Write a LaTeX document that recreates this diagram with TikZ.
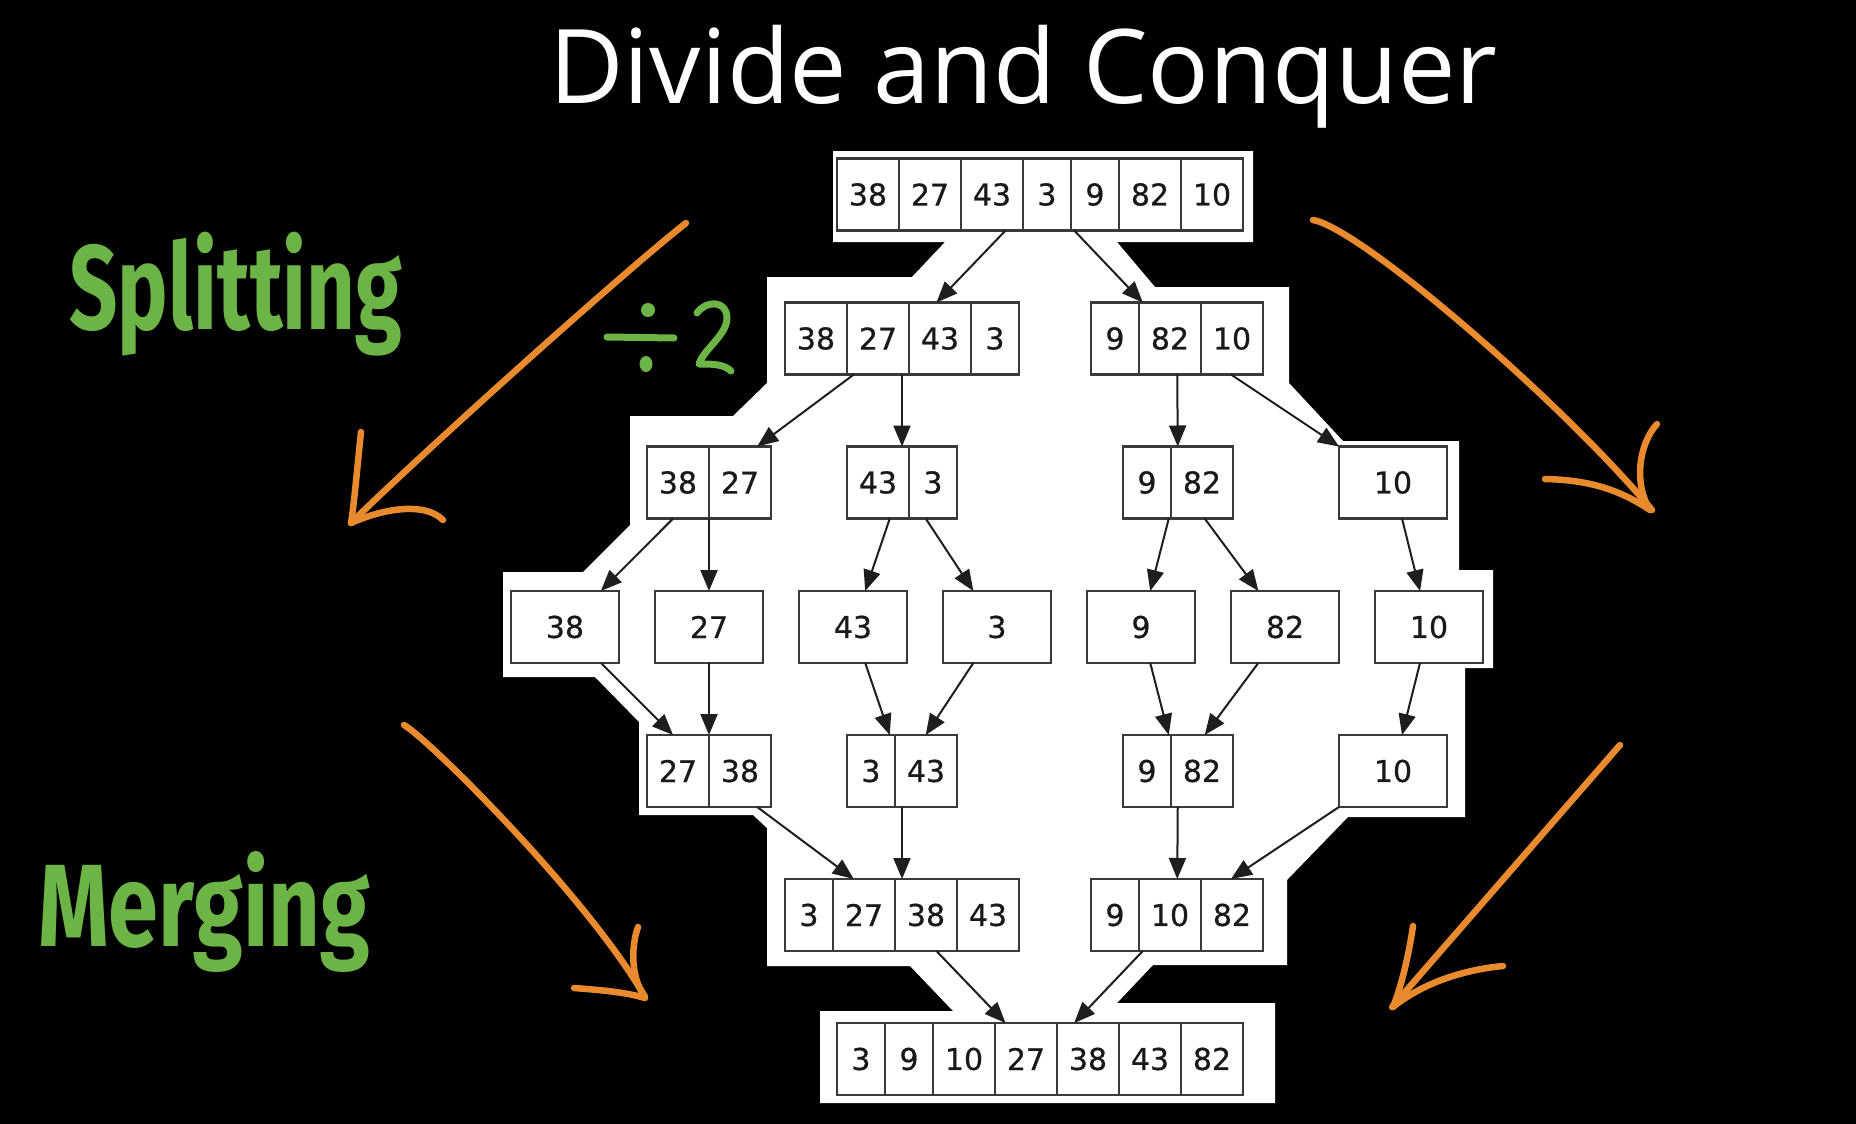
\documentclass[tikz,border=0pt]{standalone}
\usepackage{fontspec}
\usepackage{graphicx}
\usetikzlibrary{arrows.meta,calc}
\newfontfamily\digitfont[FakeBold=0.6]{DejaVu Sans}
\newfontfamily\titlefont{Open Sans}
\newfontfamily\greenfont{Fira Sans}
\definecolor{boxline}{HTML}{3A3A3A}
\definecolor{edgeblack}{HTML}{1E1E1E}
\definecolor{orng}{HTML}{E98A2E}
\definecolor{grn}{HTML}{6CB446}
\tikzset{
  recbox/.style={draw=boxline, line width=2.2pt, fill=white, minimum height=72pt, inner sep=0pt, outer sep=0pt},
  recline/.style={draw=boxline, line width=2.2pt},
  digit/.style={inner sep=0pt, font=\digitfont\fontsize{30}{30}\selectfont, text=black!90},
  edge/.style={draw=edgeblack, line width=2pt, -{Triangle[length=21pt,width=17pt]}},
  orangepen/.style={draw=orng, line width=6.5pt, line cap=round, line join=round},
  greenpen/.style={draw=grn, line width=7pt, line cap=round, line join=round},
}
% record node: name, x centre, y centre, total width, list width/label
\newcommand\recnode[5]{%
  \node[recbox, minimum width=#4pt] (#1) at (#2,#3) {};
  \xdef\curcx{0}%
  \foreach \w/\t [count=\i] in {#5} {%
    \ifnum\i>1 \draw[recline] ($(#1.north west)+(\curcx,0)$) -- ($(#1.south west)+(\curcx,0)$);\fi
    \pgfmathsetmacro\cellmid{\curcx+\w/2}%
    \node[digit] (#1-\i) at ($(#1.west)+(\cellmid,0)$) {\t};
    \pgfmathsetmacro\nextcx{\curcx+\w}%
    \xdef\curcx{\nextcx}%
  }%
}
\begin{document}
\begin{tikzpicture}[x=1pt,y=-1pt]
\useasboundingbox (0,0) rectangle (1856,1124);
\fill[black] (0,0) rectangle (1856,1124);
% white halo
\fill[white] (833,151) -- (1253,151) -- (1253,242) -- (1117,242) -- (1155,287) -- (1289,287)
 -- (1289,383) -- (1343,441) -- (1459,441) -- (1459,570) -- (1493,570) -- (1493,668)
 -- (1465,668) -- (1465,817) -- (1348,817) -- (1287,880) -- (1287,965) -- (1153,965)
 -- (1117,1003) -- (1275,1003) -- (1275,1103) -- (820,1103) -- (820,1011) -- (953,1011)
 -- (910,966) -- (767,966) -- (767,828) -- (753,815) -- (639,815) -- (639,722)
 -- (595,677) -- (503,677) -- (503,572) -- (583,572) -- (630,525) -- (630,416)
 -- (733,416) -- (767,383) -- (767,277) -- (912,277) -- (945,242) -- (833,242) -- cycle;
% records
\recnode{r1}{1040}{194.5}{406}{62/38,62/27,62/43,48/3,48/9,62/82,62/10}
\recnode{r2a}{902}{338.5}{234}{62/38,62/27,62/43,48/3}
\recnode{r2b}{1177}{338.5}{172}{48/9,62/82,62/10}
\recnode{r3a}{709}{482.5}{124}{62/38,62/27}
\recnode{r3b}{902}{482.5}{110}{62/43,48/3}
\recnode{r3c}{1178}{482.5}{110}{48/9,62/82}
\recnode{r3d}{1393}{482.5}{108}{108/10}
\recnode{r4a}{565}{627}{108}{108/38}
\recnode{r4b}{709}{627}{108}{108/27}
\recnode{r4c}{853}{627}{108}{108/43}
\recnode{r4d}{997}{627}{108}{108/3}
\recnode{r4e}{1141}{627}{108}{108/9}
\recnode{r4f}{1285}{627}{108}{108/82}
\recnode{r4g}{1429}{627}{108}{108/10}
\recnode{r5a}{709}{771}{124}{62/27,62/38}
\recnode{r5b}{902}{771}{110}{48/3,62/43}
\recnode{r5c}{1178}{771}{110}{48/9,62/82}
\recnode{r5d}{1393}{771}{108}{108/10}
\recnode{r6a}{902}{915}{234}{48/3,62/27,62/38,62/43}
\recnode{r6b}{1177}{915}{172}{48/9,62/10,62/82}
\recnode{r7}{1040}{1059}{406}{48/3,48/9,62/10,62/27,62/38,62/43,62/82}
% edges
\foreach \a/\b in {r1/r2a,r1/r2b,r2a/r3a,r2a/r3b,r2b/r3c,r2b/r3d,
  r3a/r4a,r3a/r4b,r3b/r4c,r3b/r4d,r3c/r4e,r3c/r4f,r3d/r4g,
  r4a/r5a,r4b/r5a,r4c/r5b,r4d/r5b,r4e/r5c,r4f/r5c,r4g/r5d,
  r5a/r6a,r5b/r6a,r5c/r6b,r5d/r6b,r6a/r7,r6b/r7}
  \draw[edge] (\a) -- (\b);
% title
\node[anchor=north west, inner sep=0pt, text=white] (title) at (549,25)
  {\resizebox*{948pt}{103pt}{\titlefont Divide and Conquer}};
% green labels
\node[anchor=north west, inner sep=0pt, text=grn] (splitting) at (69,232)
  {\resizebox*{333pt}{124pt}{\greenfont\bfseries Splitting}};
\node[anchor=north west, inner sep=0pt, text=grn] (merging) at (38,851)
  {\resizebox*{332pt}{121pt}{\greenfont\bfseries Merging}};
% divide by 2
\fill[grn] (648,310) circle[radius=7pt];
\fill[grn] (646,364) ellipse[x radius=6.5pt, y radius=8pt];
\draw[greenpen] (607,337) -- (674,338);
\draw[greenpen] (697,313) .. controls (706,300) and (727,300) .. (727,318)
  .. controls (727,335) and (703,350) .. (699,364) .. controls (712,364) and (724,364) .. (731,371);
% orange arrows
\draw[orangepen] (686,223) .. controls (620,275) and (420,455) .. (351,523);
\draw[orangepen] (361,432) .. controls (357,470) and (354,505) .. (351,523);
\draw[orangepen] (351,523) .. controls (385,508) and (425,502) .. (443,520);
\draw[orangepen] (1313,220) .. controls (1360,228) and (1560,400) .. (1652,510);
\draw[orangepen] (1657,424) .. controls (1638,445) and (1634,485) .. (1650,510);
\draw[orangepen] (1545,479) .. controls (1590,480) and (1620,490) .. (1650,510);
\draw[orangepen] (1620,745) -- (1392,1007);
\draw[orangepen] (1413,926) .. controls (1408,960) and (1400,990) .. (1393,1007);
\draw[orangepen] (1503,966) .. controls (1460,970) and (1420,985) .. (1393,1007);
\draw[orangepen] (404,725) .. controls (430,740) and (590,900) .. (645,997);
\draw[orangepen] (638,927) .. controls (630,950) and (632,980) .. (645,997);
\draw[orangepen] (574,988) .. controls (600,990) and (625,992) .. (645,998);
\end{tikzpicture}
\end{document}
